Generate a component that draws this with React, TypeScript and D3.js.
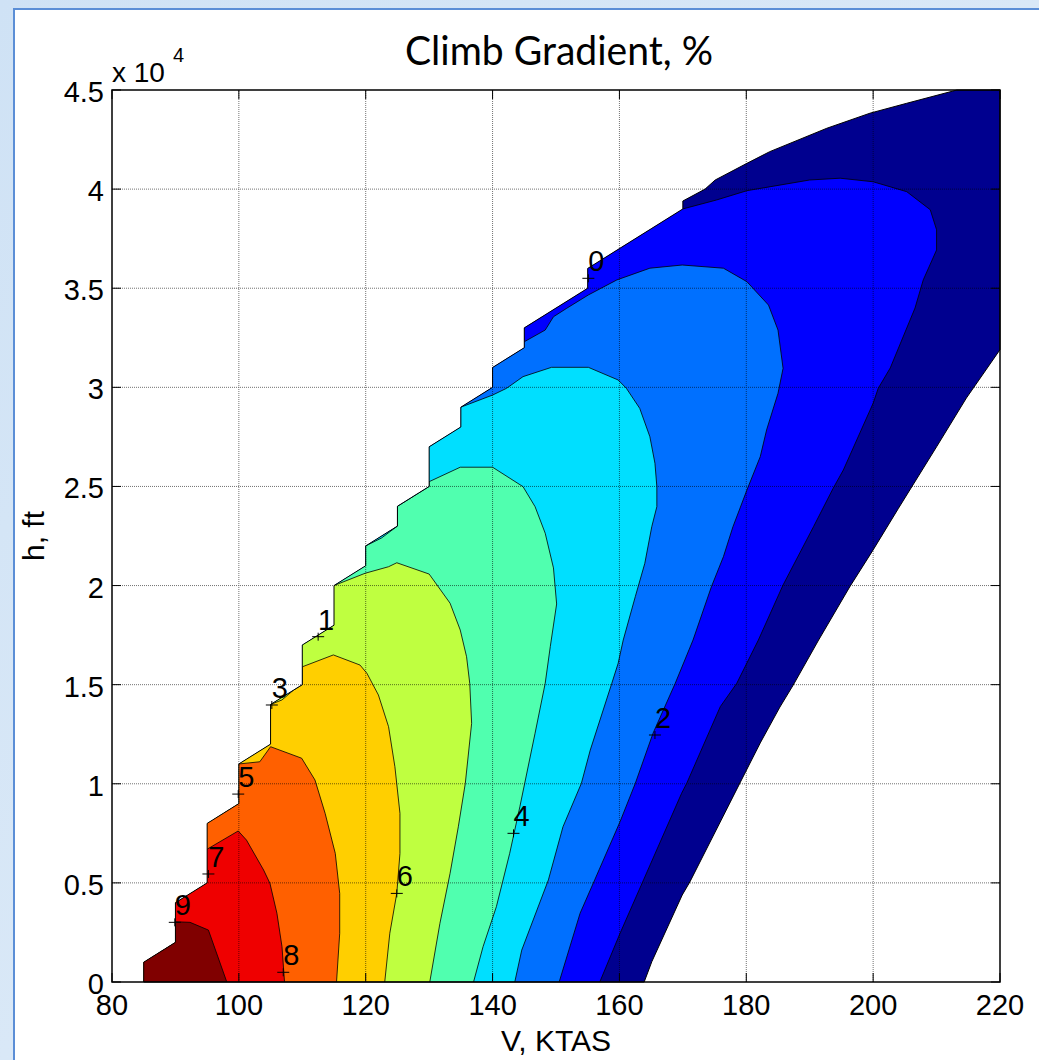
import React from 'react';
import * as d3 from 'd3';

const W = 1039;
const H = 1060;

// axis ticks
const xTicks = [80, 100, 120, 140, 160, 180, 200, 220];
const yTicks = [0, 5000, 10000, 15000, 20000, 25000, 30000, 35000, 40000, 45000];
const yTickLabels = ['0', '0.5', '1', '1.5', '2', '2.5', '3', '3.5', '4', '4.5'];

// jet colours, one per band (lowest first)
const bandColors = ['#00008F', '#0000FF', '#0070FF', '#00DFFF', '#50FFAF', '#BFFF40', '#FFCF00', '#FF6000', '#EF0000', '#800000'];

// outer edge of the data (V kts, h ft): staircase + top, then the right side going down
const edgeLeft: [number, number][] = [
  [85, 0], [85, 1000], [90, 2000], [90, 4000], [95, 5000], [95, 8000], [100, 9000], [100, 11000],
  [105, 12000], [105, 14000], [110, 15000], [110, 17000], [115, 18000], [115, 20000], [120, 21000],
  [120, 22000], [125, 23000], [125, 24000], [130, 25000], [130, 27000], [135, 28000], [135, 29000],
  [140, 30000], [140, 31000], [145, 32000], [145, 33000], [155, 35000], [155, 36000], [160, 37000],
  [165, 38000], [170, 39000], [170, 39400], [173.5, 40000], [175.1, 40460], [180.1, 41300],
  [183.7, 41890], [192.7, 43070], [199.5, 43830], [205.3, 44330], [213.2, 45000], [220, 45000],
];
const edgeRight: [number, number][] = [
  [220, 31900], [214.7, 29460], [210, 27000], [204, 23900], [200, 21800], [196.3, 19930],
  [191.4, 17250], [187.4, 14980], [185.3, 13870], [182.2, 12060], [179, 10040], [171.1, 5045],
  [169.9, 4390], [165.1, 1020], [163.9, 0],
];

// contour lines, each from the top edge down to h = 0
const c1: [number, number][] = [
  [170, 39000], [175.3, 39450], [180.1, 39920], [190, 40460], [194.8, 40550], [200, 40370],
  [205.3, 39870], [209, 38960], [210, 37950], [210, 36930], [207.9, 35420], [206.6, 34000],
  [202.7, 30980], [200.8, 29950], [200, 29200], [195.3, 25830], [193.7, 24910], [190.6, 22970],
  [185.8, 20030], [181.9, 17250], [178.5, 15070], [175.9, 13890], [170.6, 10020], [169.8, 9520],
  [163.8, 5150], [160.1, 2460], [156.9, 0],
];
const c2: [number, number][] = [
  [145, 32300], [148.3, 32890], [149.6, 33560], [151.7, 33990], [155.1, 34660], [159.6, 35420],
  [164.8, 36010], [169.9, 36170], [176.4, 36010], [180.1, 35330], [183.5, 34150], [185, 32890],
  [185.8, 30960], [185, 29700], [183.2, 27850], [182.2, 26500], [180.1, 24820], [177.9, 22970],
  [176.4, 21460], [174.5, 19940], [171.6, 17250], [168.8, 15070], [165.3, 12550], [162.5, 10020],
  [160.1, 8090], [156.1, 5150], [153.8, 3470], [150.5, 0],
];
const c3: [number, number][] = [
  [135, 29000], [140, 29610], [142.2, 29950], [144.8, 30540], [149.3, 31010], [155.1, 31010],
  [159.8, 30370], [161.1, 29950], [163.2, 28940], [164.8, 27510], [165.6, 26170], [165.9, 24990],
  [165.9, 23980], [165.1, 22970], [164, 21120], [162.5, 19440], [160.6, 17250], [159.8, 16080],
  [158.8, 15070], [155.4, 11700], [154, 10020], [151.1, 7830], [148.8, 5150], [144.6, 1610], [143.5, 0],
];
const c4: [number, number][] = [
  [120, 22000], [122.5, 22400], [125, 23000], [125, 24000], [130, 25000], [130, 25240],
  [134.9, 25970], [140, 25970], [144.8, 24990], [146.7, 23980], [148.3, 22640], [149.6, 20890],
  [150.1, 19070], [149.1, 16920], [148.3, 15070], [146.7, 12550], [144.3, 8840], [142.7, 6490],
  [140.6, 3800], [138.5, 1780], [137, 0],
];
const c5: [number, number][] = [
  [115, 20000], [119.9, 20620], [123.6, 20950], [124.9, 21150], [130, 20580], [133.3, 19110],
  [134.9, 17760], [135.9, 16410], [136.4, 15070], [136.7, 13050], [135.7, 10020], [134.6, 7830],
  [133.3, 5480], [131.7, 2960], [130.1, 0],
];
const c6: [number, number][] = [
  [105, 14000], [106.8, 14230], [108.6, 14720], [110, 15000], [110, 15900], [114.9, 16500],
  [119.1, 15990], [120.2, 15570], [122, 14480], [123.6, 12880], [124.6, 10860], [125.4, 8510],
  [125.4, 6490], [124.9, 4470], [123.8, 2460], [123, 0],
];
const c7: [number, number][] = [
  [100, 11000], [103.3, 11110], [105, 11870], [109.9, 11290], [112, 10190], [113.6, 8510],
  [115.2, 6490], [115.9, 4470], [115.9, 2460], [115.4, 0],
];
const c8: [number, number][] = [
  [95, 6700], [99.9, 7620], [101.2, 7160], [103.9, 5650], [104.9, 4980], [106, 3470], [106.8, 1780], [107.2, 0],
];
const c9: [number, number][] = [
  [90, 3040], [92.3, 3010], [95.2, 2620], [98.1, 0],
];
const contours = [c1, c2, c3, c4, c5, c6, c7, c8, c9];

// clabel positions (the "+" point)
const labelText = ['0', '1', '2', '3', '4', '5', '6', '7', '8', '9'];
const labelV = [155.1, 112.5, 165.6, 105.2, 143.3, 99.9, 124.9, 95.2, 107, 89.9];
const labelH = [35500, 17420, 12460, 13975, 7500, 9480, 4470, 5450, 490, 3010];

export default function App() {
  const x = d3.scaleLinear().domain([80, 220]).range([112, 1000]);
  const y = d3.scaleLinear().domain([0, 45000]).range([982, 90]);
  const line = d3.line<[number, number]>().x(d => x(d[0])).y(d => y(d[1]));

  const edge = [...edgeLeft, ...edgeRight];
  const edgePath = line(edge) + 'Z';

  // filled band = everything left of the contour, cut down to the data edge
  const regionPath = (pts: [number, number][]) => {
    const last = pts[pts.length - 1];
    const poly: [number, number][] = [[60, -5000], [60, pts[0][1]], ...pts, [last[0], -5000]];
    return line(poly) + 'Z';
  };

  const font = '"Liberation Sans", Arial, Helvetica, sans-serif';

  return (
    <svg width={W} height={H} style={{ position: 'absolute', left: 0, top: 0 }}>
      <defs>
        <clipPath id="edgeClip">
          <path d={edgePath} />
        </clipPath>
        <linearGradient id="bg" x1="0" y1="0" x2="1" y2="1">
          <stop offset="0" stopColor="#cfe2f5" />
          <stop offset="1" stopColor="#e3eef9" />
        </linearGradient>
      </defs>
      <rect x={0} y={0} width={W} height={H} fill="url(#bg)" />
      <rect x={14} y={9} width={1100} height={1100} fill="#fff" stroke="#5b8ed6" strokeWidth={2} />

      {/* filled contours */}
      <path d={edgePath} fill={bandColors[0]} />
      <g clipPath="url(#edgeClip)">
        {contours.map((c, i) => (
          <path key={'f' + i} d={regionPath(c)} fill={bandColors[i + 1]} />
        ))}
        {contours.map((c, i) => (
          <path key={'l' + i} d={line(c) || ''} fill="none" stroke="#000" strokeWidth={0.8} />
        ))}
      </g>
      <path d={edgePath} fill="none" stroke="#000" strokeWidth={1} />

      {/* grid */}
      <g stroke="#000" strokeWidth={1} strokeDasharray="1 1" opacity={0.55}>
        {xTicks.slice(1, -1).map(t => (
          <line key={'gx' + t} x1={x(t)} x2={x(t)} y1={y(0)} y2={y(45000)} />
        ))}
        {yTicks.slice(1, -1).map(t => (
          <line key={'gy' + t} x1={x(80)} x2={x(220)} y1={y(t)} y2={y(t)} />
        ))}
      </g>

      {/* axes box and ticks */}
      <rect x={x(80)} y={y(45000)} width={x(220) - x(80)} height={y(0) - y(45000)} fill="none" stroke="#000" strokeWidth={1.5} />
      <g stroke="#000" strokeWidth={1}>
        {xTicks.map(t => (
          <g key={'tx' + t}>
            <line x1={x(t)} x2={x(t)} y1={y(0)} y2={y(0) - 9} />
            <line x1={x(t)} x2={x(t)} y1={y(45000)} y2={y(45000) + 9} />
          </g>
        ))}
        {yTicks.map(t => (
          <g key={'ty' + t}>
            <line x1={x(80)} x2={x(80) + 9} y1={y(t)} y2={y(t)} />
            <line x1={x(220)} x2={x(220) - 9} y1={y(t)} y2={y(t)} />
          </g>
        ))}
      </g>

      {/* tick labels */}
      <g fontFamily={font} fontSize={29} fill="#000">
        {xTicks.map(t => (
          <text key={'lx' + t} x={x(t)} y={1015} textAnchor="middle">{t}</text>
        ))}
        {yTicks.map((t, i) => (
          <text key={'ly' + t} x={x(80) - 8} y={y(t) + 12} textAnchor="end">{yTickLabels[i]}</text>
        ))}
        <text x={112} y={82} fontSize={28}>x 10</text>
        <text x={173} y={62} fontSize={20}>4</text>
      </g>

      {/* contour labels */}
      <g fontFamily={font} fontSize={29} fill="#000">
        {labelText.map((s, i) => {
          const px = x(labelV[i]);
          const py = y(labelH[i]);
          return (
            <g key={'cl' + i}>
              <line x1={px - 6} x2={px + 6} y1={py} y2={py} stroke="#000" strokeWidth={1} />
              <line x1={px} x2={px} y1={py - 4} y2={py + 4} stroke="#000" strokeWidth={1} />
              <text x={px + 8} y={py - 7} textAnchor="middle">{s}</text>
            </g>
          );
        })}
      </g>

      {/* titles */}
      <text x={559} y={65} textAnchor="middle" fontFamily="Lato, 'Open Sans', sans-serif" fontSize={40}
        textLength={308} lengthAdjust="spacingAndGlyphs">Climb Gradient, %</text>
      <text x={556} y={1051} textAnchor="middle" fontFamily={font} fontSize={30}>V, KTAS</text>
      <text transform="translate(44,536) rotate(-90)" textAnchor="middle" fontFamily={font} fontSize={30}>h, ft</text>
    </svg>
  );
}
